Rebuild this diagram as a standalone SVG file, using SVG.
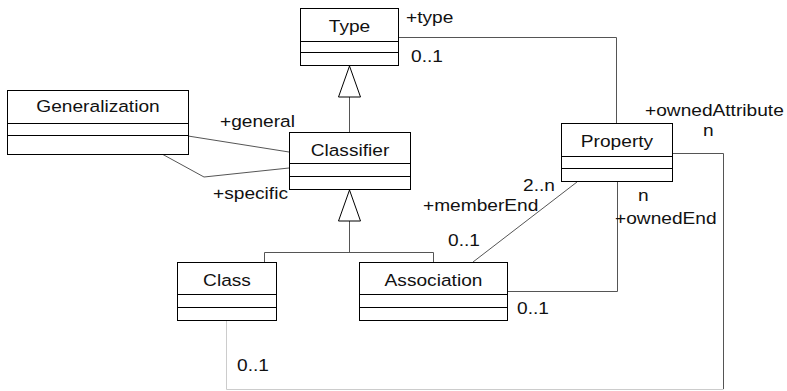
<svg xmlns="http://www.w3.org/2000/svg" width="787" height="391" viewBox="0 0 787 391">
<style>
text{font-family:"Liberation Sans",Arial,sans-serif;font-size:16.5px;fill:#111}
.n{text-anchor:middle}
.box{fill:#fff;stroke:#000;stroke-width:1}
.div{stroke:#000;stroke-width:1}
.c{fill:none;stroke:#555;stroke-width:1}
.tri{fill:#fff;stroke:#000;stroke-width:1}
</style>
<rect width="787" height="391" fill="#fff"/>
<g id="connectors">
<polyline class="c" points="398,37.5 616.5,37.5 616.5,123"/>
<line class="c" x1="349.5" y1="97" x2="349.5" y2="132"/>
<polygon class="tri" points="349.5,66 338.5,97 360.5,97"/>
<polyline class="c" points="264.5,262 264.5,252.5 433.5,252.5 433.5,262"/>
<line class="c" x1="349.5" y1="221" x2="349.5" y2="252.5"/>
<polygon class="tri" points="349.5,190 338.5,221 360.5,221"/>
<line class="c" x1="188" y1="136" x2="289" y2="152"/>
<polyline class="c" points="162,154 204,177 289,168"/>
<line class="c" x1="577" y1="182" x2="473" y2="262"/>
<polyline class="c" points="617.5,182 617.5,291.5 507,291.5"/>
<polyline class="c" points="672,153.5 723.5,153.5 723.5,389"/>
<polyline points="226.5,321 226.5,389.5 723.5,389.5" fill="none" stroke="#ccc" stroke-width="1"/>
<text transform="translate(406,23) scale(1.16,1)">+type</text>
<text transform="translate(411,62) scale(1.16,1)">0..1</text>
<text transform="translate(220,127) scale(1.16,1)">+general</text>
<text transform="translate(213,199) scale(1.16,1)">+specific</text>
<text transform="translate(645,116) scale(1.16,1)">+ownedAttribute</text>
<text transform="translate(703,136) scale(1.16,1)">n</text>
<text transform="translate(523,191) scale(1.16,1)">2..n</text>
<text transform="translate(423,211) scale(1.16,1)">+memberEnd</text>
<text transform="translate(448,246) scale(1.16,1)">0..1</text>
<text transform="translate(638,201) scale(1.16,1)">n</text>
<text transform="translate(615,224) scale(1.16,1)">+ownedEnd</text>
<text transform="translate(517,314) scale(1.16,1)">0..1</text>
<text transform="translate(237,371) scale(1.16,1)">0..1</text>
</g>
<g id="Type">
<rect class="box" x="300.5" y="8.5" width="98" height="57"/>
<line class="div" x1="300.5" y1="41.5" x2="398.5" y2="41.5"/>
<line class="div" x1="300.5" y1="52.5" x2="398.5" y2="52.5"/>
<text class="n" transform="translate(349.5,32) scale(1.16,1)">Type</text>
</g>
<g id="Generalization">
<rect class="box" x="7.5" y="90.5" width="181" height="64"/>
<line class="div" x1="7.5" y1="123.5" x2="188.5" y2="123.5"/>
<line class="div" x1="7.5" y1="135.5" x2="188.5" y2="135.5"/>
<text class="n" transform="translate(98,112) scale(1.16,1)">Generalization</text>
</g>
<g id="Classifier">
<rect class="box" x="289.5" y="132.5" width="121" height="57"/>
<line class="div" x1="289.5" y1="163.5" x2="410.5" y2="163.5"/>
<line class="div" x1="289.5" y1="176.5" x2="410.5" y2="176.5"/>
<text class="n" transform="translate(350,156) scale(1.16,1)">Classifier</text>
</g>
<g id="Property">
<rect class="box" x="561.5" y="123.5" width="111" height="58"/>
<line class="div" x1="561.5" y1="156.5" x2="672.5" y2="156.5"/>
<line class="div" x1="561.5" y1="168.5" x2="672.5" y2="168.5"/>
<text class="n" transform="translate(617,147) scale(1.16,1)">Property</text>
</g>
<g id="Class">
<rect class="box" x="177.5" y="262.5" width="99" height="58"/>
<line class="div" x1="177.5" y1="294.5" x2="276.5" y2="294.5"/>
<line class="div" x1="177.5" y1="307.5" x2="276.5" y2="307.5"/>
<text class="n" transform="translate(227,286) scale(1.16,1)">Class</text>
</g>
<g id="Association">
<rect class="box" x="359.5" y="262.5" width="148" height="58"/>
<line class="div" x1="359.5" y1="294.5" x2="507.5" y2="294.5"/>
<line class="div" x1="359.5" y1="307.5" x2="507.5" y2="307.5"/>
<text class="n" transform="translate(433.5,286) scale(1.16,1)">Association</text>
</g>
</svg>
